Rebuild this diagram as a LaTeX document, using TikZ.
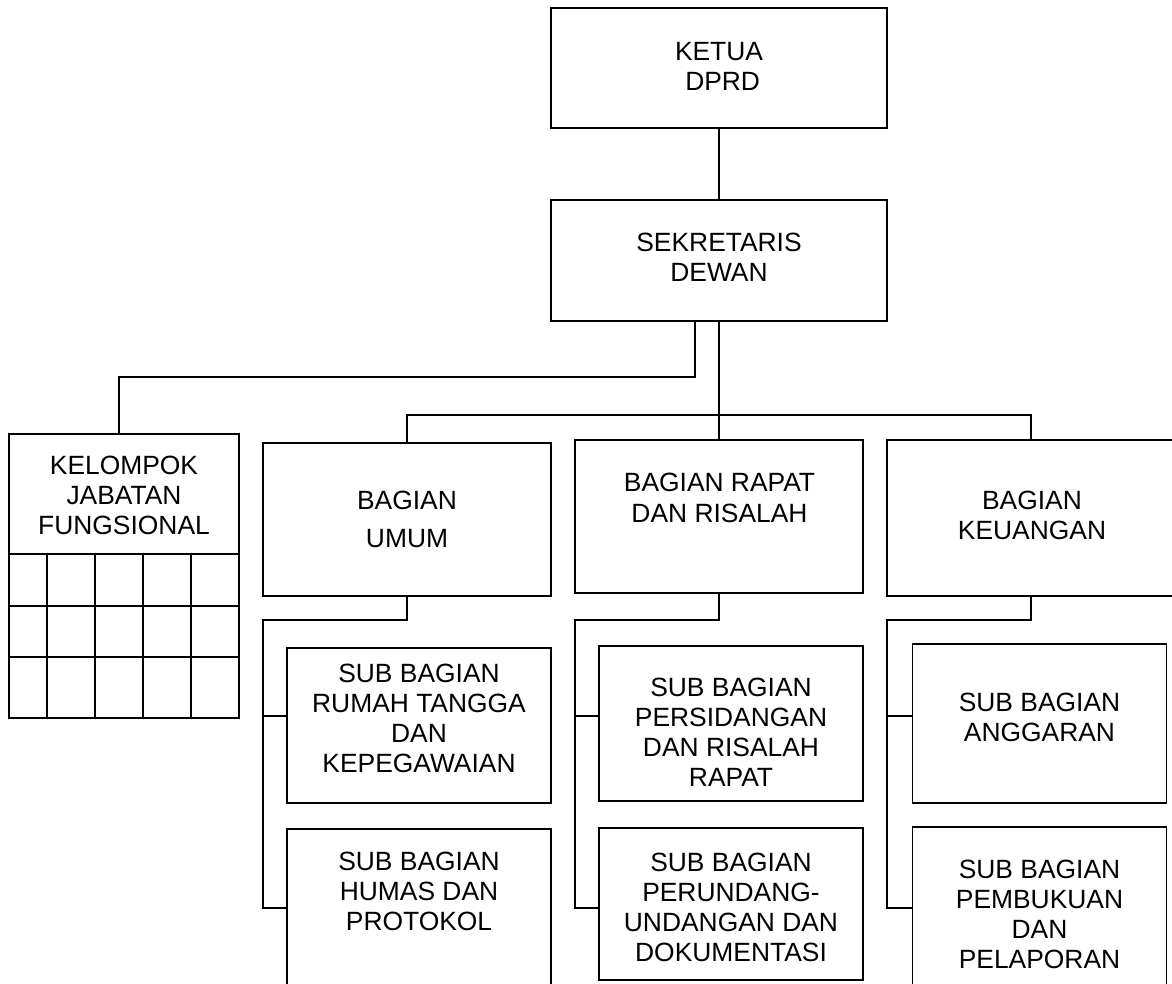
\documentclass[tikz,border=0pt]{standalone}
\usepackage{fontspec}
\setmainfont{Liberation Sans}
\begin{document}
\begin{tikzpicture}[x=1pt,y=-1pt,
  line width=1.5pt,
  box/.style={draw=black, line width=1.5pt, rectangle, inner sep=0pt, outer sep=0pt},
  txt/.style={align=center, inner sep=0pt, font=\fontsize{26.4}{30}\selectfont},
  conn/.style={draw=black, line width=1.5pt}]
\useasboundingbox (0,0) rectangle (1172,984);
\clip (0,0) rectangle (1172,984);
\fill[white] (0,0) rectangle (1172,984);

% boxes
\node[box, minimum width=336pt, minimum height=120pt] (ketua) at (719,68) {};
\node[box, minimum width=336pt, minimum height=121pt] (sek) at (719,260.5) {};
\node[box, minimum width=230pt, minimum height=284pt] (kjf) at (124,576) {};
\node[box, minimum width=288pt, minimum height=153pt] (umum) at (407,519.5) {};
\node[box, minimum width=288pt, minimum height=153pt] (rapat) at (719,516.5) {};
\node[box, minimum width=290pt, minimum height=156pt] (keu) at (1032,518) {};
\node[box, minimum width=264pt, minimum height=155pt] (rt) at (419,725.5) {};
\node[box, minimum width=264pt, minimum height=175pt] (humas) at (419,916.5) {};
\node[box, minimum width=264pt, minimum height=155pt] (persid) at (731,723.5) {};
\node[box, minimum width=264pt, minimum height=152pt] (perund) at (731,904) {};
\node[box, minimum width=254pt, minimum height=159pt] (angg) at (1039.5,723.5) {};
\node[box, minimum width=254pt, minimum height=176pt] (pembuk) at (1039.5,915) {};

% texts
\node[txt] (ketua-t) at (719,66) {KETUA\\\hspace*{7.3pt}DPRD};
\node[txt] (sek-t) at (719,257.5) {SEKRETARIS\\DEWAN};
\node[txt] (kjf-t) at (124,495.5) {KELOMPOK\\JABATAN\\FUNGSIONAL};
\node[txt] (umum-t) at (407,519.5) {BAGIAN\\[8pt]UMUM};
\node[txt] (rapat-t) at (719.5,497.5) {BAGIAN RAPAT\\[1pt]DAN RISALAH};
\node[txt] (keu-t) at (1032,515) {BAGIAN\\KEUANGAN};
\node[txt] (rt-t) at (419,718.5) {SUB BAGIAN\\RUMAH TANGGA\\DAN\\KEPEGAWAIAN};
\node[txt] (humas-t) at (419,891.5) {SUB BAGIAN\\HUMAS DAN\\PROTOKOL};
\node[txt] (persid-t) at (731,732.5) {SUB BAGIAN\\PERSIDANGAN\\DAN RISALAH\\RAPAT};
\node[txt] (perund-t) at (731,907) {SUB BAGIAN\\PERUNDANG-\\UNDANGAN DAN\\DOKUMENTASI};
\node[txt] (angg-t) at (1039.5,717.5) {SUB BAGIAN\\ANGGARAN};
\node[txt] (pembuk-t) at (1039.5,914) {SUB BAGIAN\\PEMBUKUAN\\DAN\\PELAPORAN};

% KJF grid
\draw (9,554) -- (239,554);
\draw (9,606) -- (239,606);
\draw (9,657) -- (239,657);
\foreach \gx in {47,95,143,191} { \draw (\gx,554) -- (\gx,718); }

% connectors
\draw[conn] (ketua.south) -- (sek.north);
\coordinate (s1) at (695,321);
\coordinate (s2) at (695,377);
\coordinate (k1) at (119,377);
\draw[conn] (s1) -- (s2) -- (k1) -- (k1 |- kjf.north);
\draw[conn] (sek.south) -- (rapat.north);
\coordinate (barL) at (407,415);
\coordinate (barR) at (1031,415);
\draw[conn] (umum.north) -- (barL) -- (barR) -- (barR |- keu.north);

% UMUM subs
\coordinate (uA) at (263,620); \coordinate (uB) at (263,716); \coordinate (uC) at (263,908);
\draw[conn] (umum.south) |- (uA) -- (uC) -- (uC -| humas.west);
\draw[conn] (uB) -- (uB -| rt.west);
% RAPAT subs
\coordinate (rA) at (575,620); \coordinate (rB) at (575,716); \coordinate (rC) at (575,908);
\draw[conn] (rapat.south) |- (rA) -- (rC) -- (rC -| perund.west);
\draw[conn] (rB) -- (rB -| persid.west);
% KEUANGAN subs
\coordinate (kA) at (887,620); \coordinate (kB) at (887,716); \coordinate (kC) at (887,908);
\coordinate (kD) at (1031,596);
\draw[conn] (kD) |- (kA) -- (kC) -- (kC -| pembuk.west);
\draw[conn] (kB) -- (kB -| angg.west);
\end{tikzpicture}
\end{document}
